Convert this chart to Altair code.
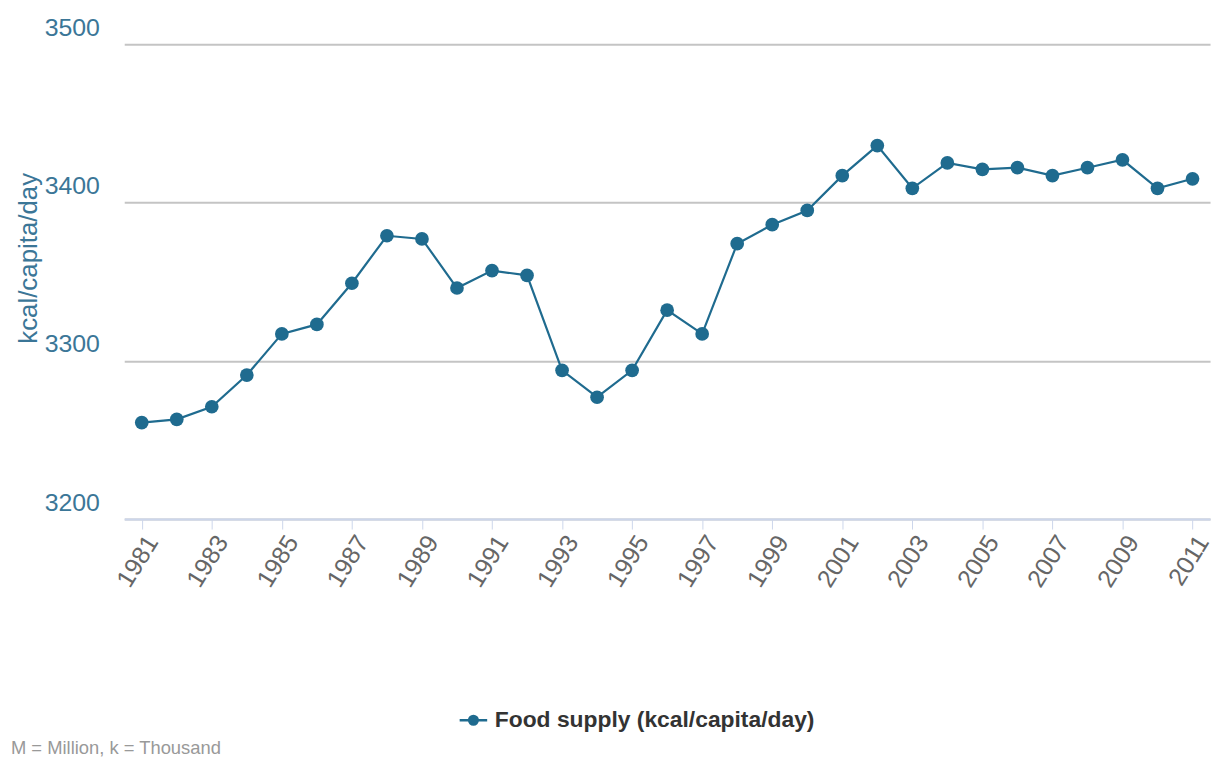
import altair as alt
import pandas as pd

years = list(range(1981, 2012))
kcal = [3261, 3263, 3271, 3291, 3317, 3323, 3349, 3379, 3377, 3346,
        3357, 3354, 3294, 3277, 3294, 3332, 3317, 3374, 3386, 3395,
        3417, 3436, 3409, 3425, 3421, 3422, 3417, 3422, 3427, 3409, 3415]
series_name = "Food supply (kcal/capita/day)"
footnote = "M = Million, k = Thousand"
x_ticks = list(range(1981, 2012, 2))
y_ticks = [3200, 3300, 3400, 3500]

df = pd.DataFrame({"year": years, "kcal": kcal, "series": [series_name] * len(years)})
note_df = pd.DataFrame({"note": [footnote]})

FONT = "Liberation Sans, Arial, sans-serif"
BLUE = "#1f6b8f"

base = alt.Chart(df).encode(
    x=alt.X("year:Q",
            scale=alt.Scale(domain=[1980.5, 2011.5], nice=False, zero=False),
            axis=alt.Axis(values=x_ticks, format="d", title=None, grid=False,
                          labelAngle=302, labelAlign="right", labelBaseline="top",
                          labelFont=FONT, labelFontSize=25, labelColor="#666666",
                          labelPadding=2, tickColor="#ccd6eb", tickSize=10, tickWidth=1,
                          domainColor="#ccd6eb", domainWidth=2, labelFlush=False)),
    y=alt.Y("kcal:Q",
            scale=alt.Scale(domain=[3200, 3500], nice=False, zero=False),
            axis=alt.Axis(values=y_ticks, title="kcal/capita/day", format="d",
                          grid=True, gridColor="#c4c4c4", gridWidth=2,
                          domain=False, ticks=False,
                          labelFont=FONT, labelFontSize=25, labelColor="#3b7697",
                          labelPadding=25, labelBaseline="alphabetic", labelOffset=-9,
                          titleFont=FONT, titleFontSize=26, titleFontWeight="normal",
                          titleColor="#3b7697", titleX=-96, titleY=215,
                          titleBaseline="middle")),
    color=alt.Color("series:N", scale=alt.Scale(range=[BLUE]),
                    legend=alt.Legend(title=None, orient="none", legendX=340, legendY=669,
                                      labelFont=FONT, labelFontSize=23, labelFontWeight="bold",
                                      labelColor="#333333", labelLimit=0, symbolSize=300,
                                      symbolType="M-1.6,0L1.6,0M0.5,0A0.5,0.5,0,1,1,-0.5,0A0.5,0.5,0,1,1,0.5,0Z",
                                      symbolStrokeWidth=2.5, symbolFillColor=BLUE,
                                      symbolStrokeColor=BLUE, labelOffset=10)),
)

line = base.mark_line(strokeWidth=2.2)
pts = base.mark_point(filled=True, size=190, opacity=1)

note = alt.Chart(note_df).mark_text(
    align="left", baseline="alphabetic", font=FONT, fontSize=18.5, color="#999999"
).encode(text="note:N", x=alt.value(-114), y=alt.value(714))

chart = alt.layer(line, pts, note).properties(
    width=1093, height=478,
    autosize=alt.AutoSizeParams(type="none"),
    padding={"left": 117, "top": 34, "right": 7, "bottom": 241},
).configure_view(stroke=None)

chart.save("out.html", embed_options={"renderer": "svg", "actions": False})
